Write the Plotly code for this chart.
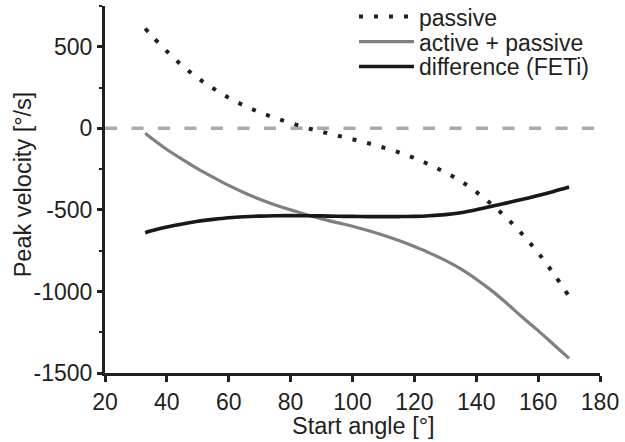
import plotly.graph_objects as go

# ---- data ----
start_angle = [33, 35, 40, 45, 50, 55, 60, 65, 70, 75, 80, 85, 90, 95, 100,
               105, 110, 115, 120, 125, 130, 135, 140, 145, 150, 155, 160, 165, 170]
passive = [612, 570, 472, 384, 309, 245, 187, 139, 98, 64, 33, 4, -21, -44, -67,
           -91, -118, -148, -182, -224, -270, -324, -390, -466, -553, -652, -763, -891, -1030]
active_passive = [-30, -60, -130, -190, -248, -300, -350, -395, -435, -470, -500, -528, -555, -578, -600,
                  -626, -655, -688, -725, -765, -810, -862, -925, -995, -1075, -1160, -1240, -1325, -1410]
difference = [-640, -628, -605, -586, -570, -558, -548, -542, -538, -536, -535, -536, -537, -539, -540,
              -541, -541, -541, -540, -536, -529, -517, -499, -478, -457, -435, -412, -387, -360]

series_names = ["passive", "active + passive", "difference (FETi)"]
x_ticks = [20, 40, 60, 80, 100, 120, 140, 160, 180]
y_ticks = [-1500, -1000, -500, 0, 500]
y_ticktext = ["-1500", "-1000", "-500", "0", "500"]
x_title = "Start angle [°]"
y_title = "Peak velocity [°/s]"

INK = "#231f20"
FONT = "Liberation Sans, Arial, sans-serif"

fig = go.Figure()
fig.add_trace(go.Scatter(
    x=start_angle, y=passive, mode="lines", name=series_names[0],
    line=dict(color=INK, width=4, dash="4px,11px", shape="spline"),
    legend="legend"))
fig.add_trace(go.Scatter(
    x=start_angle, y=active_passive, mode="lines", name=series_names[1],
    line=dict(color="#808080", width=3.2, shape="spline"),
    legend="legend2"))
fig.add_trace(go.Scatter(
    x=start_angle, y=difference, mode="lines", name=series_names[2],
    line=dict(color="#1a1718", width=3.6, shape="spline"),
    legend="legend3"))

# zero reference line
fig.add_shape(type="line", xref="x", yref="y", x0=20, x1=180, y0=0, y1=0,
              line=dict(color="#aaaaaa", width=3.5, dash="12px,14.5px"), layer="below")

leg_common = dict(font=dict(family=FONT, size=23, color=INK), bgcolor="rgba(0,0,0,0)",
                  borderwidth=0, xanchor="left", yanchor="middle", itemwidth=55,
                  x=0.503)

fig.update_layout(
    width=625, height=442,
    margin=dict(l=105, r=25, t=6, b=69, autoexpand=False),
    paper_bgcolor="white", plot_bgcolor="white",
    font=dict(family=FONT, size=23, color=INK),
    showlegend=True,
    legend=dict(**leg_common, y=0.971),
    legend2=dict(**leg_common, y=0.903),
    legend3=dict(**leg_common, y=0.835),
    xaxis=dict(range=[20, 180], tickvals=x_ticks, ticks="outside", ticklen=6, tickwidth=2.5,
               tickcolor=INK, showline=True, linewidth=3, linecolor=INK, showgrid=False,
               zeroline=False, tickfont=dict(size=23, color=INK), automargin=False),
    yaxis=dict(range=[-1500, 750], tickvals=y_ticks, ticktext=y_ticktext, ticks="outside",
               ticklen=5, tickwidth=2.5, tickcolor=INK, showline=True, linewidth=3,
               linecolor=INK, showgrid=False, zeroline=False, automargin=False,
               minor=dict(dtick=250, tick0=0, ticks="outside", ticklen=3, tickwidth=2, tickcolor=INK,
                          showgrid=False),
               tickfont=dict(size=23, color=INK)),
    annotations=[
        dict(text=x_title, xref="paper", yref="paper", x=0.522, y=-0.1435,
             xanchor="center", yanchor="middle", showarrow=False,
             font=dict(family=FONT, size=23.5, color=INK)),
        dict(text=y_title, xref="paper", yref="paper", x=-0.165, y=0.515, textangle=-90,
             xanchor="center", yanchor="middle", showarrow=False,
             font=dict(family=FONT, size=23.5, color=INK)),
    ],
)

fig.write_html("out.html",
               config={"displayModeBar": False},
               post_script="document.body.style.margin='0px';document.body.style.padding='0px';")
